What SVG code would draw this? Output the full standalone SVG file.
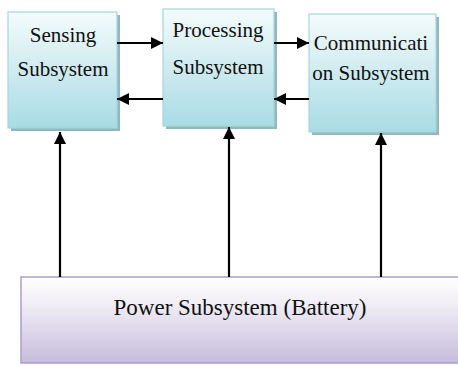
<svg xmlns="http://www.w3.org/2000/svg" width="458" height="365" viewBox="0 0 458 365">
<defs>
<linearGradient id="gb" x1="0" y1="0" x2="0" y2="1">
<stop offset="0" stop-color="#f4fbfc"/>
<stop offset="1" stop-color="#a9dbe4"/>
</linearGradient>
<linearGradient id="gp" x1="0" y1="0" x2="0" y2="1">
<stop offset="0" stop-color="#ffffff"/>
<stop offset="0.3" stop-color="#f1eef6"/>
<stop offset="1" stop-color="#c6bcdc"/>
</linearGradient>
<marker id="ah" viewBox="0 0 12 12" refX="12" refY="6" markerWidth="12" markerHeight="12" markerUnits="userSpaceOnUse" orient="auto">
<path d="M0,0 L12,6 L0,12 z" fill="#000"/>
</marker>
<style>
.box{fill:url(#gb);stroke:#a6d6de;stroke-width:1.2}
.sh{fill:#93b8bc}
.pw{fill:url(#gp);stroke:#ab9fcb;stroke-width:1.5}
.t{font-family:"Liberation Serif","Times New Roman",serif;font-size:21px;fill:#111;text-anchor:middle}
.tp{font-family:"Liberation Serif","Times New Roman",serif;font-size:23px;fill:#111;text-anchor:middle}
.c{stroke:#000;stroke-width:2.2;fill:none;marker-end:url(#ah)}
</style>
</defs>
<g id="sensing">
<rect class="sh" x="11" y="15" width="109" height="116"/>
<rect class="box" x="8" y="12" width="109" height="116"/>
<text class="t" x="63" y="42">Sensing</text>
<text class="t" x="63" y="76">Subsystem</text>
</g>
<g id="processing">
<rect class="sh" x="166" y="12" width="111" height="117"/>
<rect class="box" x="163" y="9" width="111" height="117"/>
<text class="t" x="218" y="37">Processing</text>
<text class="t" x="218" y="74">Subsystem</text>
</g>
<g id="communication">
<rect class="sh" x="312" y="17" width="127" height="118"/>
<rect class="box" x="309" y="14" width="127" height="118"/>
<text class="t" x="371" y="50">Communicati</text>
<text class="t" x="371" y="80">on Subsystem</text>
</g>
<g id="power">
<rect class="pw" x="21" y="277" width="440" height="86"/>
<text class="tp" x="240" y="315">Power Subsystem (Battery)</text>
</g>
<g id="connectors">
<line class="c" x1="117" y1="43" x2="163" y2="43"/>
<line class="c" x1="163" y1="99" x2="117" y2="99"/>
<line class="c" x1="274" y1="43" x2="309" y2="43"/>
<line class="c" x1="309" y1="99" x2="274" y2="99"/>
<line class="c" x1="60" y1="277" x2="60" y2="132"/>
<line class="c" x1="229" y1="277" x2="229" y2="127"/>
<line class="c" x1="381" y1="277" x2="381" y2="133"/>
</g>
</svg>
